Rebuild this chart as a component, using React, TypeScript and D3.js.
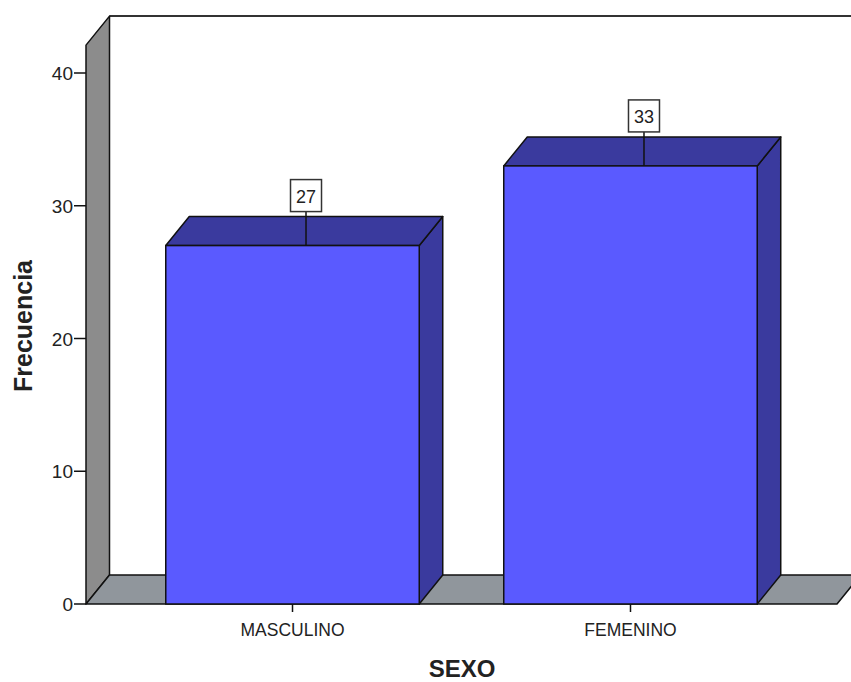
import React from "react";
import * as d3 from "d3";

const categories: string[] = ["MASCULINO", "FEMENINO"];
const frecuencias: number[] = [27, 33];
const yTicks: number[] = [0, 10, 20, 30, 40];
const xTitle = "SEXO";
const yTitle = "Frecuencia";

const W = 851;
const H = 682;
const DX = 23.5;
const DY = 29;
const FONT = "'Liberation Sans', Arial, sans-serif";

export default function App() {
  const x = d3
    .scaleBand<string>()
    .domain(categories)
    .range([86, 837])
    .paddingInner(0.25)
    .paddingOuter(0.236);
  const y = d3.scaleLinear().domain([0, 40]).range([604, 73]);
  const y0 = y(0);
  const yTop = y(42.1);
  const left = 86;
  const right = 837;
  const ext = 40;

  const frontColor = "#5a5aff";
  const darkColor = "#3a3a9e";
  const wallColor = "#8c8c8c";
  const floorColor = "#90969c";
  const edge = "#111";

  return (
    <svg
      width={W}
      height={H}
      style={{ position: "absolute", left: 0, top: 0, background: "#fff" }}
      fontFamily={FONT}
    >
      <rect x={left + DX} y={yTop - DY} width={W} height={y0 - yTop} fill="#fff" />
      <line x1={left + DX} y1={yTop - DY} x2={W + ext} y2={yTop - DY} stroke="#333" strokeWidth={2} />
      <path
        d={`M${left},${yTop} L${left + DX},${yTop - DY} L${left + DX},${y0 - DY} L${left},${y0} Z`}
        fill={wallColor}
        stroke={edge}
        strokeWidth={1.5}
        strokeLinejoin="round"
      />
      <path
        d={`M${left},${y0} L${left + DX},${y0 - DY} L${right + DX + ext},${y0 - DY} L${right + ext},${y0 - DY} L${right + DX},${y0 - DY} L${right},${y0} Z`}
        fill={floorColor}
        stroke={edge}
        strokeWidth={1.5}
        strokeLinejoin="round"
      />
      {yTicks.map((t) => (
        <g key={t}>
          <line x1={left - 12} x2={left} y1={y(t)} y2={y(t)} stroke={edge} strokeWidth={1.5} />
          <text x={left - 13} y={y(t) + 7} textAnchor="end" fontSize={19} fill="#222">
            {t}
          </text>
        </g>
      ))}
      {categories.map((c, i) => {
        const bx = x(c)!;
        const bw = x.bandwidth();
        const by = y(frecuencias[i]);
        const cx = bx + bw / 2;
        const lx = cx + 13.5;
        return (
          <g key={c}>
            <path
              d={`M${bx + bw},${by} L${bx + bw + DX},${by - DY} L${bx + bw + DX},${y0 - DY} L${bx + bw},${y0} Z`}
              fill={darkColor}
              stroke={edge}
              strokeWidth={1.5}
              strokeLinejoin="round"
            />
            <path
              d={`M${bx},${by} L${bx + DX},${by - DY} L${bx + bw + DX},${by - DY} L${bx + bw},${by} Z`}
              fill={darkColor}
              stroke={edge}
              strokeWidth={1.5}
              strokeLinejoin="round"
            />
            <rect x={bx} y={by} width={bw} height={y0 - by} fill={frontColor} stroke={edge} strokeWidth={1.5} />
            <line x1={lx} x2={lx} y1={by - 34} y2={by} stroke={edge} strokeWidth={1.5} />
            <rect x={lx - 15.5} y={by - 66} width={31} height={32} fill="#fff" stroke="#333" strokeWidth={1.5} />
            <text x={lx} y={by - 43} textAnchor="middle" fontSize={18} fill="#222">
              {frecuencias[i]}
            </text>
            <line x1={cx} x2={cx} y1={y0} y2={y0 + 8} stroke={edge} strokeWidth={1.5} />
            <text x={cx} y={636} textAnchor="middle" fontSize={17.5} fill="#222">
              {c}
            </text>
          </g>
        );
      })}
      <text x={462} y={677} textAnchor="middle" fontSize={24} fontWeight="bold" fill="#222">
        {xTitle}
      </text>
      <text
        transform={`translate(32, 326) rotate(-90)`}
        textAnchor="middle"
        fontSize={25}
        fontWeight="bold"
        fill="#222"
      >
        {yTitle}
      </text>
    </svg>
  );
}
